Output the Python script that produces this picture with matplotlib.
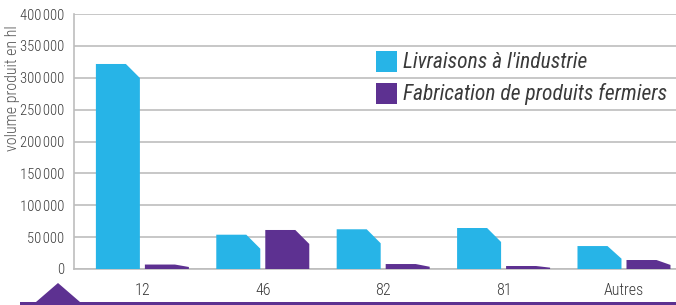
import matplotlib
matplotlib.use("Agg")
import matplotlib.pyplot as plt
from matplotlib.patches import Polygon, Rectangle

plt.rcParams["font.family"] = ["Roboto Condensed", "Archivo Narrow", "Liberation Sans", "DejaVu Sans"]

categories = ["12", "46", "82", "81", "Autres"]
livraisons = [321600, 53800, 62300, 64300, 36000]
fermiers = [7000, 61200, 7800, 4700, 14100]
yticks = [0, 50000, 100000, 150000, 200000, 250000, 300000, 350000, 400000]

BLUE = "#27b4e7"
PURPLE = "#5d3191"
GRID = "#bdbdbd"
TEXT = "#3a3a3a"

W, H = 676, 305
fig = plt.figure(figsize=(W / 100, H / 100), dpi=100)
ax_l, ax_r, ax_t, ax_b = 74, 676, 14, 269
ax = fig.add_axes([ax_l / W, (H - ax_b) / H, (ax_r - ax_l) / W, (ax_b - ax_t) / H])

slot = (ax_r - ax_l) / 5.0           # px per category
x0 = -0.568
ax.set_xlim(x0, x0 + 5)
ax.set_ylim(0, 400000)
px_y = 400000 / (ax_b - ax_t)        # data units per px (y)
px_x = 1 / slot                      # data units per px (x)

bar_w = 44 * px_x
off = 24.5 * px_x
cut_x = 14 * px_x


def chamfer_bar(xc, h, color):
    left, right = xc - bar_w / 2, xc + bar_w / 2
    dy = min(14 * px_y, 0.55 * h)
    pts = [(left, 0), (left, h), (right - cut_x, h), (right, h - dy), (right, 0)]
    ax.add_patch(Polygon(pts, closed=True, facecolor=color, edgecolor="none", zorder=3))


for i in range(len(categories)):
    chamfer_bar(i - off, livraisons[i], BLUE)
    chamfer_bar(i + off, fermiers[i], PURPLE)

ax.set_yticks(yticks)
ax.set_yticklabels([f"{v // 1000}\u200a000" if v else "0" for v in yticks], fontweight="light")
ax.set_xticks(range(len(categories)))
ax.set_xticklabels(categories, fontweight="light", fontsize=11.5)
ax.tick_params(axis="y", length=0, labelsize=10.5, colors=TEXT, pad=7)
ax.tick_params(axis="x", length=0, colors=TEXT, pad=10)
ax.yaxis.grid(True, color=GRID, linewidth=1.2)
ax.set_axisbelow(True)
for s in ["top", "right"]:
    ax.spines[s].set_visible(False)
for s in ["left", "bottom"]:
    ax.spines[s].set_color(GRID)
    ax.spines[s].set_linewidth(1.2)
ax.set_facecolor("white")

fig.text(13 / W, 1 - 88 / H, "volume produit en hl", rotation=90, ha="center", va="center",
         fontsize=11.5, fontweight="light", color="#555555")

# legend
for k, (lab, col) in enumerate([("Livraisons à l'industrie", BLUE),
                                 ("Fabrication de produits fermiers", PURPLE)]):
    top = 51 + k * 32
    fig.patches.append(Rectangle((376 / W, 1 - (top + 21) / H), 21 / W, 21 / H,
                                 transform=fig.transFigure, facecolor=col, edgecolor="none"))
    fig.text(403 / W, 1 - (top + 11) / H, lab, ha="left", va="center", fontsize=15.5,
             style="italic", color=TEXT)

# bottom decoration
fig.patches.append(Rectangle((20 / W, 0), 1, 3.5 / H, transform=fig.transFigure,
                             facecolor=PURPLE, edgecolor="none"))
fig.patches.append(Polygon([(36 / W, 3 / H), (58 / W, 1 - 283 / H), (80 / W, 3 / H)],
                           closed=True, transform=fig.transFigure,
                           facecolor=PURPLE, edgecolor="none"))

fig.savefig("out.png", dpi=100)
